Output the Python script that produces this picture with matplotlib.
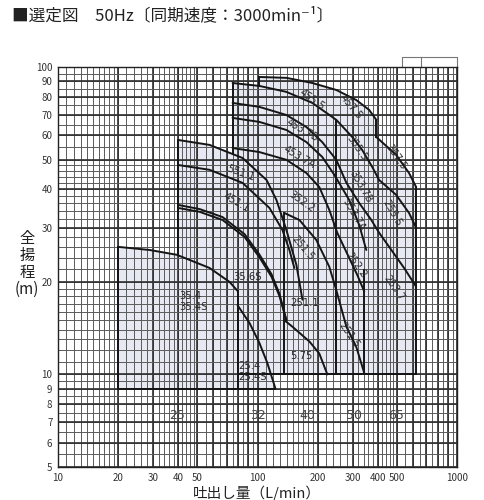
import numpy as np
import matplotlib
matplotlib.use("Agg")
import matplotlib.pyplot as plt
from matplotlib.ticker import NullLocator

plt.rcParams['font.family'] = ['Noto Sans CJK JP', 'DejaVu Sans']

# ── Text ──────────────────────────────────────────────────────────────
TITLE = "■選定図　50Hz〔同期速度：3000min⁻¹〕"
X_LABEL = "吐出し量（L/min）"
Y_LABEL = "全\n揚\n程\n(m)"

X_TICKS = [10, 20, 30, 40, 50, 100, 200, 300, 400, 500, 1000]
Y_TICKS = [5, 6, 7, 8, 9, 10, 20, 30, 40, 50, 60, 70, 80, 90, 100]

# ── Pump curves: flow Q (L/min) / head H (m) ─────────────────────────
c354_q = [20, 28.8, 39.4, 57.5, 72.4, 79.4]
c354_h = [26.0, 25.4, 24.5, 22.2, 20.0, 18.7]

c254_q = [79.4, 91.2, 102, 112, 123]
c254_h = [16.8, 14.7, 12.7, 10.9, 9.0]

c551_q = [40, 57.5, 84.1, 111, 124.5, 139.6, 156.7, 168]
c551_h = [57.9, 55.8, 50.6, 42.9, 36.9, 29.5, 22.7, 17.5]

c451_q = [40, 57.5, 84.1, 114.8, 133.4, 144.5, 153]
c451_h = [48.0, 46.3, 42.0, 34.8, 29.5, 25.4, 22.2]

c356a_q = [40, 51.3, 66.8, 86.1, 102, 117.5, 128.8, 139.6]
c356a_h = [35.6, 34.5, 32.5, 28.6, 24.6, 21.2, 18.3, 15.0]
c356b_q = [40, 51.3, 66.8, 86.1, 102, 117.5, 128.8, 139.6]
c356b_h = [34.8, 33.8, 31.8, 28.0, 24.1, 20.8, 18.0, 15.0]

c575_q = [136.5, 149.6, 182, 204, 224]
c575_h = [15.0, 14.3, 12.8, 11.7, 10.0]

c2515_q = [136.5, 162.2, 197, 229, 248.3, 279, 312.6, 343]
c2515_h = [33.5, 31.8, 27.4, 22.4, 18.8, 14.3, 12.3, 10.1]

c4575_q = [102, 139.6, 188.4, 248.3, 312.6, 363, 394]
c4575_h = [92.8, 92.2, 88.7, 84.2, 78.1, 72.5, 67.3]

c3575_q = [394, 495, 575, 624]
c3575_h = [59.2, 51.8, 45.2, 40.7]

c4555_q = [75, 102, 139.6, 188.4, 248.3, 298.5, 335, 376, 407, 495, 575, 624]
c4555_h = [88.7, 86.8, 83.0, 76.4, 67.3, 59.2, 53.7, 47.3, 42.9, 38.4, 33.5, 30.0]

c4537b_q = [75, 102, 139.6, 175.8, 211, 248.3, 279, 323.6, 372, 407, 457, 543, 624]
c4537b_h = [76.4, 74.2, 69.8, 63.8, 57.0, 49.9, 42.0, 36.1, 31.8, 28.9, 26.0, 22.2, 19.3]

c4537a_q = [75, 102, 139.6, 175.8, 211, 242.7, 288.4, 323.6, 351]
c4537a_h = [68.3, 66.3, 62.4, 57.0, 51.0, 44.6, 36.9, 30.6, 25.4]

c3522_q = [75, 102, 139.6, 175.8, 204, 229, 251, 288.4, 316, 343]
c3522_h = [54.5, 52.9, 49.9, 45.2, 40.7, 34.3, 28.9, 23.9, 21.1, 18.6]

# region boundaries: verticals (Q, H_low, H_high) and horizontals (H, Q_low, Q_high)
v_q = [20, 79.4, 40, 75, 102, 394, 136.5, 248.3, 343, 624]
v_lo = [9.0, 9.0, 24.5, 52.2, 86.8, 59.2, 10.0, 10.0, 10.0, 10.0]
v_hi = [26.0, 18.7, 57.9, 88.7, 92.8, 67.3, 33.5, 67.3, 21.9, 40.7]

h_h = [9.0, 10.0]
h_lo = [20, 79.4]
h_hi = [123, 624]

# model labels
lab_text = ["457.5", "455.5", "453.7B", "453.7A", "355.5", "357.5", "353.7B",
            "353.7A", "255.5", "352.2", "551.1", "451.1", "35.6S",
            "251.5", "251.1", "5.75", "252.2", "253.7", "251.5"]
lab_q = [295, 188, 168, 162, 316, 495, 331, 302, 473, 166, 82, 78.5, 89,
         168, 173, 166, 313, 483, 288]
lab_h = [74.2, 78.1, 62.4, 51.0, 54.5, 51.0, 40.7, 33.0, 33.5, 36.5, 45.2,
         36.1, 20.8, 25.8, 17.1, 11.5, 22.7, 19.1, 13.4]
lab_rot = [-50, -35, -30, -30, -55, -55, -60, -60, -60, -35, -20, -30, 0,
           -50, 0, 0, -55, -55, -55]

pair_text = ["35.4\n35.4S", "25.4\n25.4S"]
pair_q = [40.5, 80.5]
pair_h = [17.3, 10.2]

bore_text = ["25", "32", "40", "50", "65"]
bore_q = [39.4, 100, 178, 305, 495]
bore_h = 7.38

CURVES = [
    (c354_q, c354_h, 9.0), (c254_q, c254_h, 9.0),
    (c551_q, c551_h, 10.0), (c451_q, c451_h, 10.0),
    (c356a_q, c356a_h, 10.0), (c356b_q, c356b_h, 10.0),
    (c575_q, c575_h, 10.0), (c2515_q, c2515_h, 10.0),
    (c4575_q, c4575_h, 10.0), (c3575_q, c3575_h, 10.0),
    (c4555_q, c4555_h, 10.0), (c4537b_q, c4537b_h, 10.0),
    (c4537a_q, c4537a_h, 10.0), (c3522_q, c3522_h, 10.0),
]

# ── Figure ────────────────────────────────────────────────────────────
fig = plt.figure(figsize=(4.85, 5.0), dpi=100)
ax = fig.add_axes([58 / 485, 33 / 500, 399 / 485, 400 / 500])
ax.set_xscale("log")
ax.set_yscale("log")
ax.set_xlim(10, 1000)
ax.set_ylim(5, 100)

# log graph paper
x_thin = np.concatenate([np.arange(10, 20, 1), np.arange(20, 50, 2),
                         np.arange(50, 100, 5), np.arange(100, 200, 10),
                         np.arange(200, 500, 20), np.arange(500, 1001, 50)])
x_thick = np.concatenate([np.arange(10, 100, 10), np.arange(100, 1001, 100)])
y_thin = np.concatenate([np.arange(5, 10, 0.5), np.arange(10, 20, 1),
                         np.arange(20, 50, 2), np.arange(50, 101, 5)])
y_thick = np.concatenate([np.arange(5, 10, 1), np.arange(10, 101, 10)])
for x in x_thin:
    ax.axvline(x, color="#5a5a5a", lw=0.7, zorder=1)
for x in x_thick:
    ax.axvline(x, color="#2e2e2e", lw=1.2, zorder=1)
for y in y_thin:
    ax.axhline(y, color="#5a5a5a", lw=0.7, zorder=1)
for y in y_thick:
    ax.axhline(y, color="#2e2e2e", lw=1.2, zorder=1)

# shaded selection area
for q, h, base in CURVES:
    ax.fill_between(q, base, h, color="#e6e9f2", lw=0, zorder=0.5)

for q, h, base in CURVES:
    ax.plot(q, h, color="#151515", lw=1.4, zorder=3, solid_capstyle="round")
for q, lo, hi in zip(v_q, v_lo, v_hi):
    ax.plot([q, q], [lo, hi], color="#151515", lw=1.4, zorder=3)
for h, lo, hi in zip(h_h, h_lo, h_hi):
    ax.plot([lo, hi], [h, h], color="#151515", lw=1.4, zorder=3)

for t, q, h, r in zip(lab_text, lab_q, lab_h, lab_rot):
    ax.text(q, h, t, rotation=r, ha="center", va="center", fontsize=7.2,
            color="#2a2a2a", family="DejaVu Sans", zorder=4,
            rotation_mode="anchor")
for t, q, h in zip(pair_text, pair_q, pair_h):
    ax.text(q, h, t, ha="left", va="center", fontsize=7.2, color="#2a2a2a",
            family="DejaVu Sans", linespacing=1.1, zorder=4)
for t, q in zip(bore_text, bore_q):
    ax.text(q, bore_h, t, ha="center", va="center", fontsize=9,
            color="#444444", family="DejaVu Sans", zorder=4)

# small tab above the top-right corner
ax.plot([531, 531, 1000, 1000], [100, 108, 108, 100], color="#777777",
        lw=0.8, clip_on=False)
ax.plot([661, 661], [100, 108], color="#777777", lw=0.8, clip_on=False)

ax.set_xticks(X_TICKS, labels=[str(v) for v in X_TICKS])
ax.set_yticks(Y_TICKS, labels=[str(v) for v in Y_TICKS])
ax.xaxis.set_minor_locator(NullLocator())
ax.yaxis.set_minor_locator(NullLocator())
ax.tick_params(length=0, labelsize=7, colors="#333333", pad=4)
for s in ax.spines.values():
    s.set_color("#222222")
    s.set_linewidth(1.0)

fig.text(12 / 485, 1 - 16 / 500, TITLE, fontsize=12, ha="left", va="center",
         color="#222222")
fig.text(27 / 485, 1 - 264 / 500, Y_LABEL, fontsize=11, ha="center",
         va="center", linespacing=1.0, color="#222222")
fig.text(257 / 485, 1 - 493 / 500, X_LABEL, fontsize=10.5, ha="center",
         va="center", color="#222222")

fig.savefig("out.png", dpi=100)
